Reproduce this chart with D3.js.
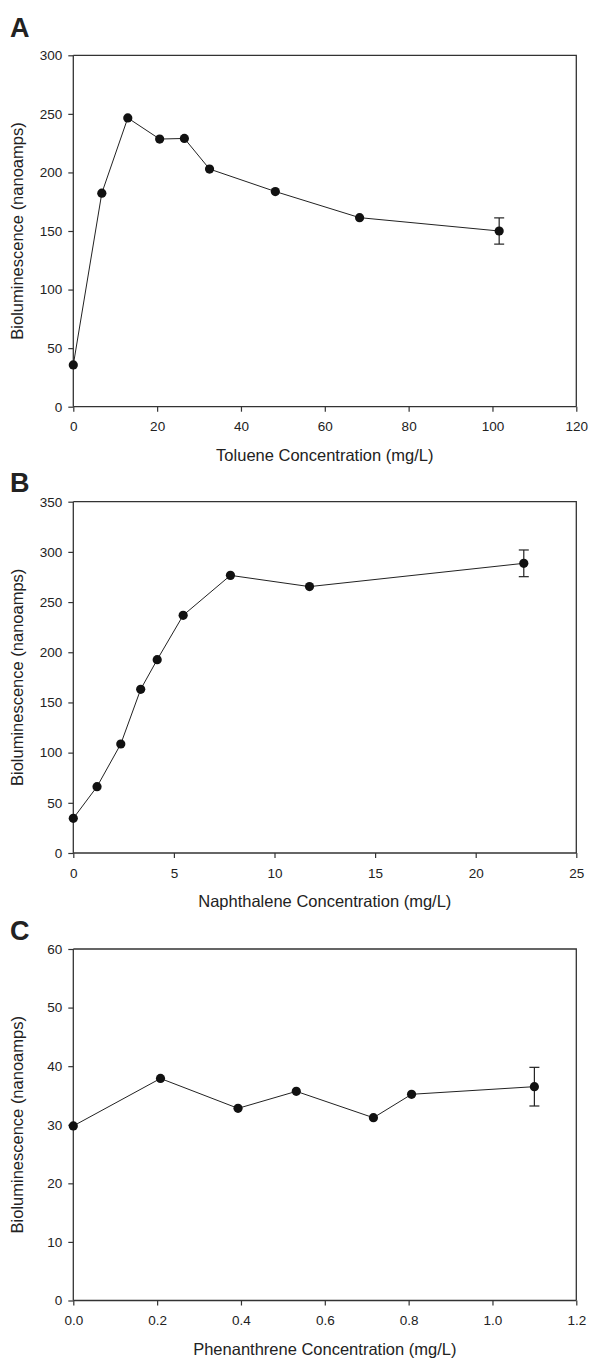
<!DOCTYPE html>
<html>
<head>
<meta charset="utf-8">
<script src="https://cdn.jsdelivr.net/npm/d3@7"></script>
<style>
  body { margin: 0; background: #fff; }
  text { font-family: "Liberation Sans", Arial, sans-serif; fill: #222; }
</style>
</head>
<body>
<svg id="chart" width="589" height="1360"></svg>
<script>
// panel A - toluene
const tolueneX = [0, 6.8, 13, 20.6, 26.5, 32.5, 48.2, 68.3, 101.6]
const tolueneY = [35.7, 182.3, 246.5, 228.5, 229, 202.9, 183.7, 161.4, 150]
const tolueneErr = [0, 0, 0, 0, 0, 0, 0, 0, 11.2]
const tolueneXTicks = [0, 20, 40, 60, 80, 100, 120]
const tolueneYTicks = [0, 50, 100, 150, 200, 250, 300]

// panel B - naphthalene
const naphX = [0, 1.18, 2.36, 3.35, 4.17, 5.46, 7.81, 11.74, 22.39]
const naphY = [34.5, 66.1, 108.6, 163.1, 192.6, 236.8, 276.6, 265.4, 288.6]
const naphErr = [0, 0, 0, 0, 0, 0, 0, 0, 13.3]
const naphXTicks = [0, 5, 10, 15, 20, 25]
const naphYTicks = [0, 50, 100, 150, 200, 250, 300, 350]

// panel C - phenanthrene
const phenX = [0, 0.208, 0.393, 0.532, 0.716, 0.807, 1.1]
const phenY = [29.8, 37.9, 32.8, 35.7, 31.2, 35.2, 36.5]
const phenErr = [0, 0, 0, 0, 0, 0, 3.3]
const phenXTicks = [0, 0.2, 0.4, 0.6, 0.8, 1.0, 1.2]
const phenYTicks = [0, 10, 20, 30, 40, 50, 60]

const svg = d3.select('#chart')
svg.append('rect').attr('width', 589).attr('height', 1360).attr('fill', '#fff')

const left = 73.3, right = 576.3

function drawPanel(opts) {
    const g = svg.append('g')
    const x = d3.scaleLinear().domain(opts.xDomain).range([left, right])
    const y = d3.scaleLinear().domain(opts.yDomain).range([opts.bottom, opts.top])

    // frame (top and right)
    g.append('path')
        .attr('d', `M${left},${opts.top}H${right}V${opts.bottom}`)
        .attr('fill', 'none')
        .attr('stroke', '#333')
        .attr('stroke-width', 1.3)

    const xAxis = g.append('g')
        .attr('transform', `translate(0,${opts.bottom})`)
        .call(d3.axisBottom(x).tickValues(opts.xTicks).tickSize(5).tickPadding(10)
            .tickFormat(opts.xFormat))
    const yAxis = g.append('g')
        .attr('transform', `translate(${left},0)`)
        .call(d3.axisLeft(y).tickValues(opts.yTicks).tickSize(5).tickPadding(6))

    for (const ax of [xAxis, yAxis]) {
        ax.select('.domain').attr('stroke', '#333').attr('stroke-width', 1.3)
            .attr('d', ax === xAxis ? `M${left},0H${right}` : `M0,${opts.top}V${opts.bottom}`)
        ax.selectAll('.tick line').attr('stroke', '#333').attr('stroke-width', 1.2)
        ax.selectAll('.tick text')
            .attr('font-family', '"Liberation Sans", Arial, sans-serif')
            .attr('font-size', 13.5)
            .attr('fill', '#222')
    }

    // connecting line
    const pts = opts.xs.map((v, i) => [v, opts.ys[i], opts.errs[i]])
    g.append('path')
        .datum(pts)
        .attr('fill', 'none')
        .attr('stroke', '#222')
        .attr('stroke-width', 1)
        .attr('d', d3.line().x(d => x(d[0])).y(d => y(d[1])))

    // error bars
    const eb = g.selectAll('.err').data(pts.filter(d => d[2] > 0)).enter().append('g')
    eb.append('line')
        .attr('x1', d => x(d[0])).attr('x2', d => x(d[0]))
        .attr('y1', d => y(d[1] - d[2])).attr('y2', d => y(d[1] + d[2]))
        .attr('stroke', '#222').attr('stroke-width', 1.2)
    for (const s of [-1, 1]) {
        eb.append('line')
            .attr('x1', d => x(d[0]) - 5).attr('x2', d => x(d[0]) + 5)
            .attr('y1', d => y(d[1] + s * d[2])).attr('y2', d => y(d[1] + s * d[2]))
            .attr('stroke', '#222').attr('stroke-width', 1.2)
    }

    // markers
    g.selectAll('.pt').data(pts).enter().append('circle')
        .attr('cx', d => x(d[0]))
        .attr('cy', d => y(d[1]))
        .attr('r', 4.6)
        .attr('fill', '#111')

    // titles
    g.append('text')
        .attr('x', (left + right) / 2)
        .attr('y', opts.bottom + 54)
        .attr('text-anchor', 'middle')
        .attr('font-size', 16.5)
        .text(opts.xTitle)

    g.append('text')
        .attr('transform', `translate(23,${(opts.top + opts.bottom) / 2}) rotate(-90)`)
        .attr('text-anchor', 'middle')
        .attr('font-size', 16.5)
        .text('Bioluminescence (nanoamps)')

    g.append('text')
        .attr('x', 10)
        .attr('y', opts.letterY)
        .attr('font-size', 27)
        .attr('font-weight', 'bold')
        .attr('fill', '#111')
        .text(opts.letter)
}

drawPanel({
    letter: 'A', letterY: 37, top: 55.3, bottom: 406.7,
    xDomain: [0, 120], yDomain: [0, 300],
    xTicks: tolueneXTicks, yTicks: tolueneYTicks, xFormat: d3.format('d'),
    xs: tolueneX, ys: tolueneY, errs: tolueneErr,
    xTitle: 'Toluene Concentration (mg/L)'
})

drawPanel({
    letter: 'B', letterY: 492, top: 501.7, bottom: 853,
    xDomain: [0, 25], yDomain: [0, 350],
    xTicks: naphXTicks, yTicks: naphYTicks, xFormat: d3.format('d'),
    xs: naphX, ys: naphY, errs: naphErr,
    xTitle: 'Naphthalene Concentration (mg/L)'
})

drawPanel({
    letter: 'C', letterY: 940, top: 949, bottom: 1300.5,
    xDomain: [0, 1.2], yDomain: [0, 60],
    xTicks: phenXTicks, yTicks: phenYTicks, xFormat: d3.format('.1f'),
    xs: phenX, ys: phenY, errs: phenErr,
    xTitle: 'Phenanthrene Concentration (mg/L)'
})
</script>
</body>
</html>
